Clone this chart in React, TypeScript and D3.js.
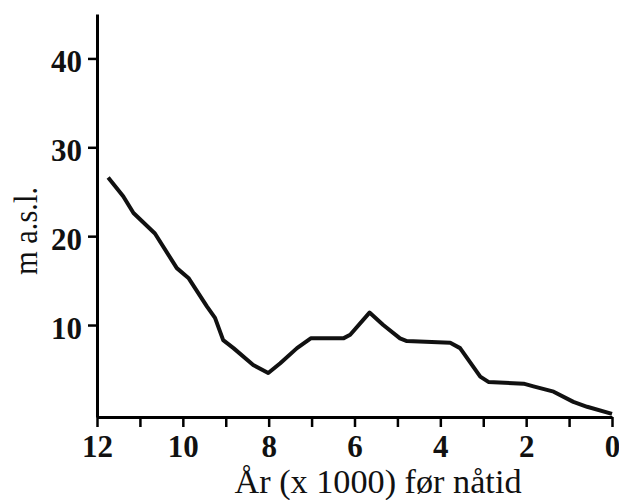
import { useEffect, useRef } from "react";
import * as d3 from "d3";

// years before present (x 1000) and elevation (m a.s.l.)
const years = [
  11.74, 11.39, 11.15, 10.65, 10.14, 9.87, 9.44, 9.25, 9.06, 8.82, 8.36, 8.01,
  7.73, 7.34, 7.02, 6.26, 6.1, 5.65, 5.33, 4.94, 4.78, 3.77, 3.54, 3.07, 2.88,
  2.06, 1.83, 1.36, 0.9, 0.58, 0.0,
];
const elevation = [
  26.6, 24.5, 22.6, 20.3, 16.4, 15.3, 12.1, 10.8, 8.3, 7.4, 5.5, 4.6, 5.7, 7.4,
  8.5, 8.5, 8.9, 11.4, 10.0, 8.5, 8.2, 8.0, 7.4, 4.2, 3.6, 3.4, 3.1, 2.5, 1.35,
  0.8, 0.0,
];
const xTicks = [12, 11, 10, 9, 8, 7, 6, 5, 4, 3, 2, 1, 0];
const yTicks = [10, 20, 30, 40];
const xTitle = "År (x 1000) før nåtid";
const yTitle = "m a.s.l.";

const W = 619;
const H = 500;
const margin = { left: 97, right: 7, top: 14, bot: 83 };
const font = "Liberation Serif, Times New Roman, serif";

export default function App() {
  const ref = useRef<SVGSVGElement>(null);

  useEffect(() => {
    const svg = d3.select(ref.current);
    svg.selectAll("*").remove();

    const x = d3
      .scaleLinear()
      .domain([12, 0])
      .range([margin.left, W - margin.right]);
    const y = d3
      .scaleLinear()
      .domain([-0.35, 45])
      .range([H - margin.bot, margin.top]);

    const xa = svg
      .append("g")
      .attr("transform", "translate(0," + (H - margin.bot) + ")")
      .call(
        d3
          .axisBottom(x)
          .tickValues(xTicks)
          .tickSize(10)
          .tickSizeOuter(0)
          .tickFormat((d) => (+d % 2 === 0 ? String(d) : ""))
      );
    xa.select(".domain").attr("stroke-width", 3);
    xa.selectAll(".tick line").attr("stroke-width", 2.5);
    xa.selectAll(".tick text")
      .attr("y", 40)
      .attr("dy", 0)
      .attr("font-family", font)
      .attr("font-weight", "bold")
      .attr("font-size", 31)
      .attr("fill", "#111");

    const ya = svg
      .append("g")
      .attr("transform", "translate(" + margin.left + ",0)")
      .call(d3.axisLeft(y).tickValues(yTicks).tickSize(9).tickSizeOuter(0));
    ya.select(".domain").attr("stroke-width", 3);
    ya.selectAll(".tick line").attr("stroke-width", 2.5);
    ya.selectAll(".tick text")
      .attr("x", -15)
      .attr("y", 13)
      .attr("dy", 0)
      .attr("font-family", font)
      .attr("font-weight", "bold")
      .attr("font-size", 31)
      .attr("fill", "#111");

    const pts = years.map((d, i) => [d, elevation[i]] as [number, number]);
    svg
      .append("path")
      .datum(pts)
      .attr("fill", "none")
      .attr("stroke", "#111")
      .attr("stroke-width", 4)
      .attr("stroke-linejoin", "round")
      .attr("d", d3.line<[number, number]>().x((d) => x(d[0])).y((d) => y(d[1])));

    svg
      .append("text")
      .attr("x", 378)
      .attr("y", 493)
      .attr("text-anchor", "middle")
      .attr("font-family", font)
      .attr("font-size", 33)
      .attr("textLength", 287)
      .attr("lengthAdjust", "spacingAndGlyphs")
      .attr("fill", "#111")
      .text(xTitle);

    svg
      .append("text")
      .attr("transform", "translate(37,231) rotate(-90)")
      .attr("text-anchor", "middle")
      .attr("font-family", font)
      .attr("font-size", 34)
      .attr("textLength", 88)
      .attr("lengthAdjust", "spacingAndGlyphs")
      .attr("fill", "#111")
      .text(yTitle);
  }, []);

  return (
    <svg
      ref={ref}
      width={W}
      height={H}
      style={{ position: "absolute", left: 0, top: 0, background: "#fff" }}
    />
  );
}
